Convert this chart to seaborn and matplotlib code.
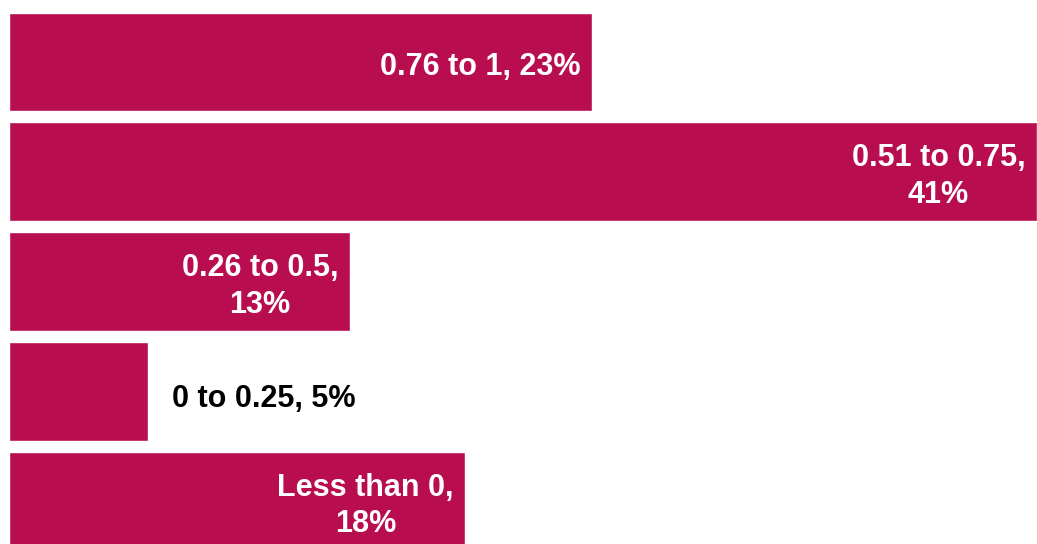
import matplotlib
matplotlib.use("Agg")
import matplotlib.pyplot as plt
import seaborn as sns
import pandas as pd

# данные
categories = ["0.76 to 1", "0.51 to 0.75", "0.26 to 0.5", "0 to 0.25", "Less than 0"]
shares = [23.25, 41.0, 13.6, 5.55, 18.2]
labels = ["0.76 to 1, 23%", "0.51 to 0.75,\n41%", "0.26 to 0.5,\n13%",
          "0 to 0.25, 5%", "Less than 0,\n18%"]
inside = [True, True, True, False, True]

df = pd.DataFrame({"category": categories, "share": shares})

sns.set_style("white")
plt.rcParams["font.family"] = ["Liberation Sans", "DejaVu Sans"]

fig = plt.figure(figsize=(10.37, 5.44), dpi=100)
ax = fig.add_axes([9 / 1037, 0, 1 - 9 / 1037, 1])

sns.barplot(data=df, y="category", x="share", orient="h", color="#B80D4F",
            saturation=1, width=0.9, ax=ax)

ax.set_xlim(0, 41.0)
ax.set_ylim(4.39, -0.565)
ax.axis("off")

for i, (val, lab, ins) in enumerate(zip(shares, labels, inside)):
    if ins:
        ax.annotate(lab, xy=(val, i), xytext=(-8.5, -3.5), textcoords="offset points",
                    ha="right", va="center", multialignment="center",
                    color="white", fontsize=22, fontweight="bold", linespacing=1.3)
    else:
        ax.annotate(lab, xy=(val, i), xytext=(17, -5.5), textcoords="offset points",
                    ha="left", va="center", color="black",
                    fontsize=22, fontweight="bold")

fig.savefig("out.png", dpi=100)
